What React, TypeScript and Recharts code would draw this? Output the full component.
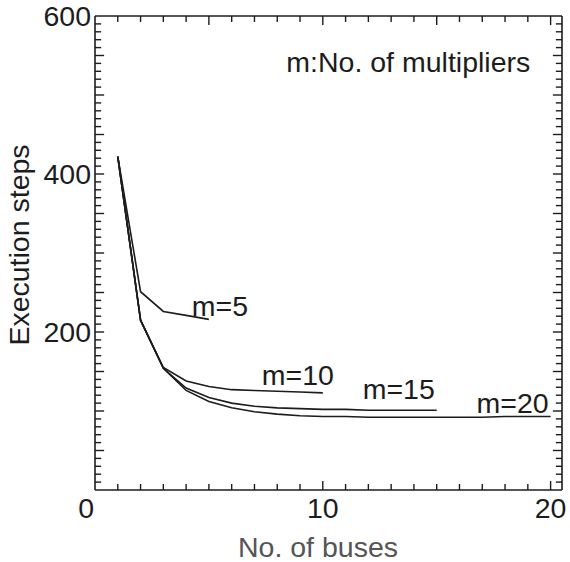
import React from 'react';
import { LineChart, Line, XAxis, YAxis, ReferenceDot, ReferenceLine } from 'recharts';

const buses = [1, 2, 3, 4, 5, 6, 7, 8, 9, 10, 11, 12, 13, 14, 15, 16, 17, 18, 19, 20];
const m5 = [422, 251, 226, 221, 216];
const m10 = [422, 215, 155, 138, 131, 127, 126, 125, 124, 123];
const m15 = [422, 215, 154, 129, 117, 110, 106, 104, 103, 102, 102, 101, 101, 101, 101];
const m20 = [422, 215, 154, 126, 112, 104, 99, 96, 94, 93, 93, 92, 92, 92, 92, 92, 92, 93, 93, 93];

const X_MIN = 0;
const X_MAX = 20.5;
const Y_MIN = 0;
const Y_MAX = 600;

const xTicks = [0].concat(buses);
const xLabelTicks = [0, 10, 20];
const yTicks = Array.from({ length: 61 }, (_, i) => i * 10);
const yLabelTicks = [200, 400, 600];

const seriesLabels = [
  { text: 'm=5', x: 4.25, y: 220 },
  { text: 'm=10', x: 7.32, y: 133 },
  { text: 'm=15', x: 11.75, y: 115 },
  { text: 'm=20', x: 16.75, y: 97.5 },
  { text: 'm:No. of multipliers', x: 8.4, y: 529 },
];

const data = buses.map((b, i) => ({
  bus: b,
  m5: m5[i],
  m10: m10[i],
  m15: m15[i],
  m20: m20[i],
}));

const FONT = '"Liberation Sans", Arial, Helvetica, sans-serif';
const INK = '#1c1c1c';
const FS = 28.5;

// tick lengths in data units (inward ticks)
const X_MINOR = 0.27;
const X_MAJOR = 0.4;
const Y_MINOR = 7.6;
const Y_MAJOR = 11.5;

const BottomTick = (props: any) => {
  const { x, y, payload } = props;
  const v = payload.value;
  if (!xLabelTicks.includes(v)) return <g />;
  return (
    <text
      x={v === 0 ? x - 1 : x}
      y={y + 28}
      textAnchor={v === 0 ? 'end' : 'middle'}
      fontSize={FS}
      fontFamily={FONT}
      fill={INK}
    >
      {v}
    </text>
  );
};

const LeftTick = (props: any) => {
  const { x, y, payload } = props;
  const v = payload.value;
  if (!yLabelTicks.includes(v)) return <g />;
  return (
    <text x={x - 4} y={y + 10} textAnchor="end" fontSize={FS} fontFamily={FONT} fill={INK}>
      {v}
    </text>
  );
};

const NoTick = () => <g />;

const LabelShape = (text: string) => (props: any) => (
  <text x={props.cx} y={props.cy} fontSize={FS} fontFamily={FONT} fill={INK}>
    {text}
  </text>
);

const lineStyle = { stroke: INK, strokeWidth: 1.6 };

export default function App() {
  const tickMarks: React.ReactNode[] = [];
  xTicks.forEach((v) => {
    if (v === 0) return;
    const lb = v % 10 === 0 ? Y_MAJOR : Y_MINOR;
    const lt = v % 5 === 0 ? Y_MAJOR : Y_MINOR;
    tickMarks.push(
      <ReferenceLine
        key={`b${v}`}
        xAxisId="bottom"
        yAxisId="left"
        segment={[{ x: v, y: Y_MIN }, { x: v, y: Y_MIN + lb }]}
        stroke={INK}
        strokeWidth={1.4}
        ifOverflow="visible"
      />,
      <ReferenceLine
        key={`t${v}`}
        xAxisId="bottom"
        yAxisId="left"
        segment={[{ x: v, y: Y_MAX }, { x: v, y: Y_MAX - lt }]}
        stroke={INK}
        strokeWidth={1.4}
        ifOverflow="visible"
      />
    );
  });
  yTicks.forEach((v) => {
    if (v === 0 || v === 600) return;
    const l = v % 50 === 0 ? X_MAJOR : X_MINOR;
    tickMarks.push(
      <ReferenceLine
        key={`l${v}`}
        xAxisId="bottom"
        yAxisId="left"
        segment={[{ x: X_MIN, y: v }, { x: X_MIN + l, y: v }]}
        stroke={INK}
        strokeWidth={1.4}
        ifOverflow="visible"
      />,
      <ReferenceLine
        key={`r${v}`}
        xAxisId="bottom"
        yAxisId="left"
        segment={[{ x: X_MAX, y: v }, { x: X_MAX - l, y: v }]}
        stroke={INK}
        strokeWidth={1.4}
        ifOverflow="visible"
      />
    );
  });

  return (
    <div style={{ position: 'absolute', left: 0, top: 0, background: '#fff' }}>
      <LineChart
        width={570}
        height={562}
        data={data}
        margin={{ top: 15, right: 7, bottom: 71, left: 0 }}
      >
        <XAxis
          xAxisId="bottom"
          dataKey="bus"
          type="number"
          domain={[X_MIN, X_MAX]}
          ticks={xTicks}
          interval={0}
          height={1}
          tickLine={false}
          tickSize={0}
          tickMargin={0}
          tick={<BottomTick />}
          axisLine={lineStyle}
          label={{
            content: () => (
              <text x={318} y={557} textAnchor="middle" fontSize={FS} fontFamily={FONT} fill="#555">
                No. of buses
              </text>
            ),
          }}
        />
        <XAxis
          xAxisId="top"
          orientation="top"
          dataKey="bus"
          type="number"
          domain={[X_MIN, X_MAX]}
          ticks={xTicks}
          interval={0}
          height={1}
          tickLine={false}
          tickSize={0}
          tickMargin={0}
          tick={<NoTick />}
          axisLine={lineStyle}
        />
        <YAxis
          yAxisId="left"
          type="number"
          domain={[Y_MIN, Y_MAX]}
          ticks={yTicks}
          interval={0}
          width={95}
          tickLine={false}
          tickSize={0}
          tickMargin={0}
          tick={<LeftTick />}
          axisLine={lineStyle}
          label={{
            content: () => (
              <text
                x={0}
                y={0}
                transform="translate(29, 245) rotate(-90)"
                textAnchor="middle"
                fontSize={FS}
                fontFamily={FONT}
                fill={INK}
              >
                Execution steps
              </text>
            ),
          }}
        />
        <YAxis
          yAxisId="right"
          orientation="right"
          type="number"
          domain={[Y_MIN, Y_MAX]}
          ticks={yTicks}
          interval={0}
          width={1}
          tickLine={false}
          tickSize={0}
          tickMargin={0}
          tick={<NoTick />}
          axisLine={lineStyle}
        />
        {tickMarks}
        {(['m5', 'm10', 'm15', 'm20'] as const).map((k) => (
          <Line
            key={k}
            xAxisId="bottom"
            yAxisId="left"
            dataKey={k}
            type="linear"
            stroke={INK}
            strokeWidth={1.6}
            dot={false}
            activeDot={false}
            isAnimationActive={false}
          />
        ))}
        {seriesLabels.map((l) => (
          <ReferenceDot
            key={l.text}
            xAxisId="bottom"
            yAxisId="left"
            x={l.x}
            y={l.y}
            r={0}
            shape={LabelShape(l.text)}
          />
        ))}
      </LineChart>
    </div>
  );
}
